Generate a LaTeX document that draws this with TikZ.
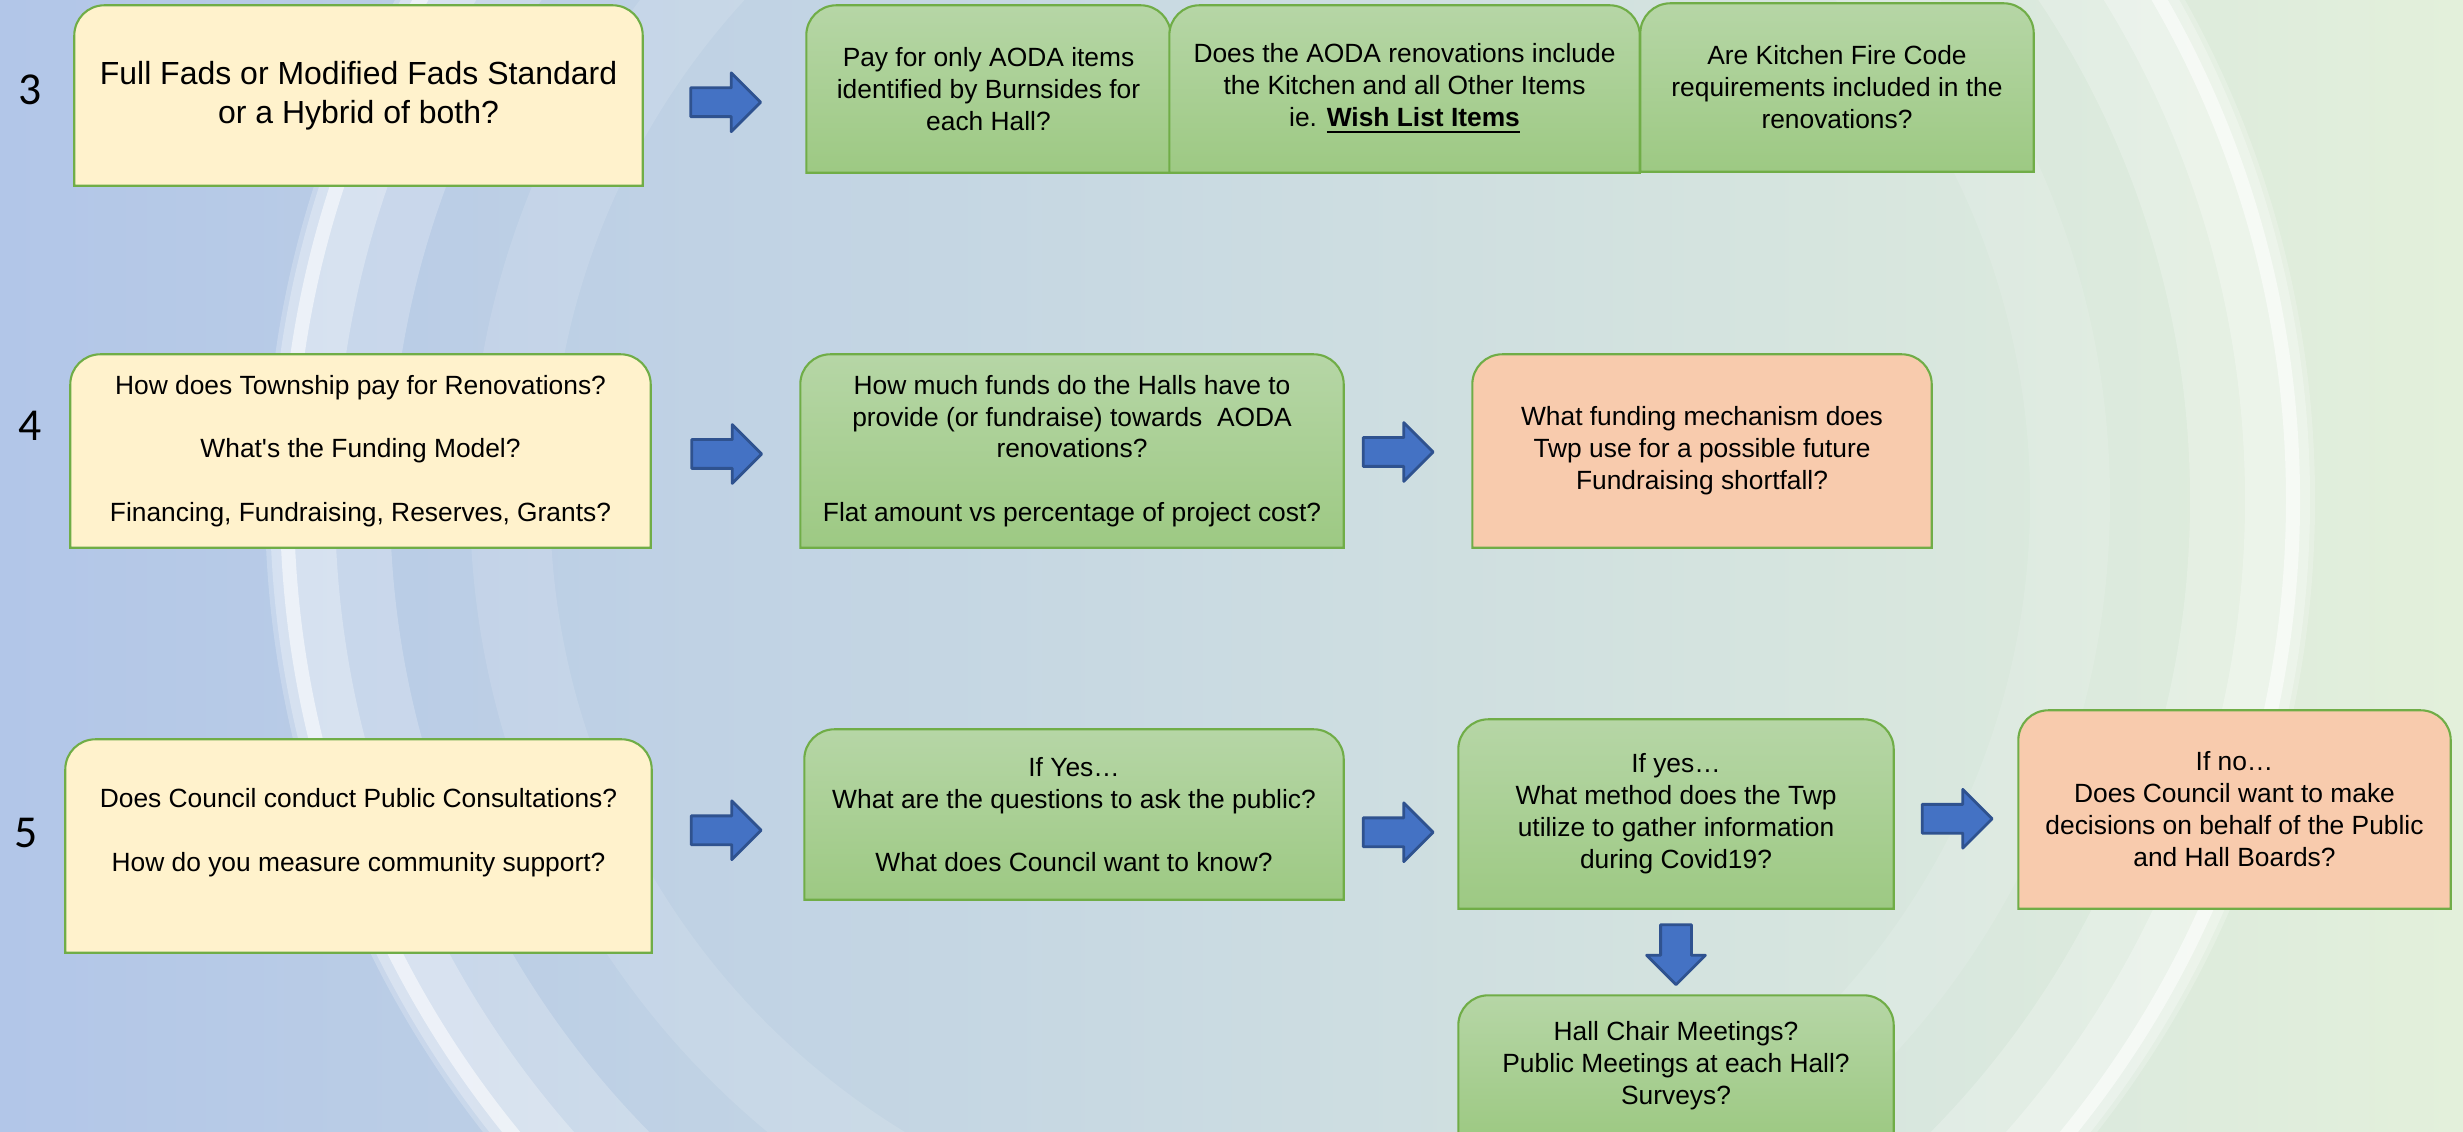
\documentclass[tikz,border=0pt]{standalone}
\usepackage{fontspec}
\setmainfont{Liberation Sans}
\newfontfamily\numfont{Carlito}
\usetikzlibrary{shapes.arrows,calc,backgrounds}

\definecolor{bgblue}{RGB}{178,198,232}
\definecolor{bggreen}{RGB}{227,240,219}
\definecolor{boxline}{RGB}{112,173,71}
\definecolor{yelfill}{RGB}{255,242,204}
\definecolor{salfill}{RGB}{248,203,173}
\definecolor{grtop}{RGB}{182,214,166}
\definecolor{grbot}{RGB}{157,201,131}
\definecolor{arfill}{RGB}{68,114,196}
\definecolor{arline}{RGB}{47,82,143}

\begin{document}
\begin{tikzpicture}[
  line join=round,
  qtext/.style={inner sep=0pt, align=center, font=\fontsize{7.5}{9.1}\selectfont},
  rownum/.style={inner sep=0pt, font=\numfont\fontsize{13}{15}\selectfont},
  yelbox/.style={fill=yelfill, draw=boxline, line width=0.6pt},
  grnbox/.style={top color=grtop, bottom color=grbot, draw=boxline, line width=0.6pt},
  salbox/.style={fill=salfill, draw=boxline, line width=0.6pt},
  blockarrow/.style={single arrow, fill=arfill, draw=arline, line width=0.8pt,
    minimum height=0.70cm, inner sep=0.13cm,
    single arrow head extend=0.15cm}
]
  \def\W{24.63}
  \def\H{11.31}
  \def\rr{0.3cm}

  \useasboundingbox (0,0) rectangle (\W,\H);

  % Hintergrund
  \begin{scope}[on background layer]
    \clip (0,0) rectangle (\W,\H);
    \shade[left color=bgblue, right color=bggreen] (0,0) rectangle (\W,\H);
    \coordinate (C) at (12.9,6.31);
    \fill[white, opacity=0.22, even odd rule] (C) circle (10.25) (C) circle (9.0);
    \fill[white, opacity=0.28, even odd rule] (C) circle (10.2) (C) circle (9.55);
    \draw[white, opacity=0.55, line width=4pt] (C) circle (10.03);
    \fill[white, opacity=0.12, even odd rule] (C) circle (8.2) (C) circle (7.4);
  \end{scope}

  % Zeilennummern
  \node[rownum] (n3) at (0.30,10.41) {3};
  \node[rownum] (n4) at (0.30,7.05) {4};
  \node[rownum] (n5) at (0.26,2.98) {5};

  % Zeile 3
  \node[qtext, font=\fontsize{9.1}{11.1}\selectfont, minimum width=5.67cm, minimum height=1.79cm]
    (q3) at (3.585,10.355) {Full Fads or Modified Fads Standard\\or a Hybrid of both?};
  \node[qtext, minimum width=3.63cm, minimum height=1.66cm] (a3) at (9.885,10.42)
    {Pay for only AODA items\\identified by Burnsides for\\each Hall?};
  \node[qtext, minimum width=4.69cm, minimum height=1.66cm] (b3) at (14.045,10.42)
    {Does the AODA renovations include\\the Kitchen and all Other Items\\ie. \textbf{\underline{Wish List Items}}};
  \node[qtext, minimum width=3.92cm, minimum height=1.67cm] (c3) at (18.37,10.435)
    {Are Kitchen Fire Code\\requirements included in the\\renovations?};

  % Zeile 4
  \node[qtext, minimum width=5.79cm, minimum height=1.92cm] (q4) at (3.605,6.80)
    {How does Township pay for Renovations?\\[9pt]What\textquotesingle s the Funding Model?\\[9pt]Financing, Fundraising, Reserves, Grants?};
  \node[qtext, minimum width=5.42cm, minimum height=1.92cm] (a4) at (10.72,6.80)
    {How much funds do the Halls have to\\provide (or fundraise) towards~ AODA\\renovations?\\[9pt]Flat amount vs percentage of project cost?};
  \node[qtext, minimum width=4.58cm, minimum height=1.92cm] (b4) at (17.02,6.80)
    {What funding mechanism does\\Twp use for a possible future\\Fundraising shortfall?};

  % Zeile 5
  \node[qtext, minimum width=5.85cm, minimum height=2.12cm] (q5) at (3.585,2.85)
    {Does Council conduct Public Consultations?\\[9pt]How do you measure community support?\\~};
  \node[qtext, minimum width=5.38cm, minimum height=1.69cm] (a5) at (10.74,3.165)
    {If Yes…\\What are the questions to ask the public?\\[9pt]What does Council want to know?};
  \node[qtext, minimum width=4.34cm, minimum height=1.88cm] (b5) at (16.76,3.17)
    {If yes…\\What method does the Twp\\utilize to gather information\\during Covid19?};
  \node[qtext, minimum width=4.31cm, minimum height=1.97cm] (c5) at (22.345,3.215)
    {If no…\\Does Council want to make\\decisions on behalf of the Public\\and Hall Boards?};
  \node[qtext, minimum width=4.34cm, minimum height=1.40cm] (d5) at (16.76,0.65)
    {Hall Chair Meetings?\\Public Meetings at each Hall?\\Surveys?};

  % Kästen, oben abgerundet
  \begin{scope}[on background layer]
    \foreach \n/\s in {q3/yelbox, q4/yelbox, q5/yelbox,
                       a3/grnbox, b3/grnbox, c3/grnbox, a4/grnbox,
                       a5/grnbox, b5/grnbox, d5/grnbox,
                       b4/salbox, c5/salbox}
      \draw[\s] (\n.south west) -- ([yshift=-\rr]\n.north west)
        arc[start angle=180, end angle=90, radius=\rr]
        -- ([xshift=-\rr]\n.north east)
        arc[start angle=90, end angle=0, radius=\rr]
        -- (\n.south east) -- cycle;
  \end{scope}

  % Pfeile
  \node[blockarrow, xshift=-0.06cm, yshift=-0.10cm] (p3) at ($(q3.east)!0.5!(a3.west)$) {};
  \node[blockarrow, xshift=-0.06cm, yshift=-0.03cm] (p4a) at ($(q4.east)!0.5!(a4.west)$) {};
  \node[blockarrow, xshift=-0.17cm, yshift=-0.01cm] (p4b) at ($(a4.east)!0.5!(b4.west)$) {};
  \node[blockarrow, xshift=-0.09cm] (p5a) at ($(q5.east)!0.5!(a5.west)$) {};
  \node[blockarrow, xshift=-0.10cm, yshift=-0.18cm] (p5b) at ($(a5.east)!0.5!(b5.west)$) {};
  \node[blockarrow, xshift=-0.06cm, yshift=-0.07cm] (p5c) at ($(b5.east)!0.5!(c5.west)$) {};
  \node[blockarrow, shape border rotate=270, minimum height=0.60cm, yshift=0.05cm,
    inner sep=0.14cm, single arrow head extend=0.14cm] (p5d) at ($(b5.south)!0.5!(d5.north)$) {};
\end{tikzpicture}
\end{document}
